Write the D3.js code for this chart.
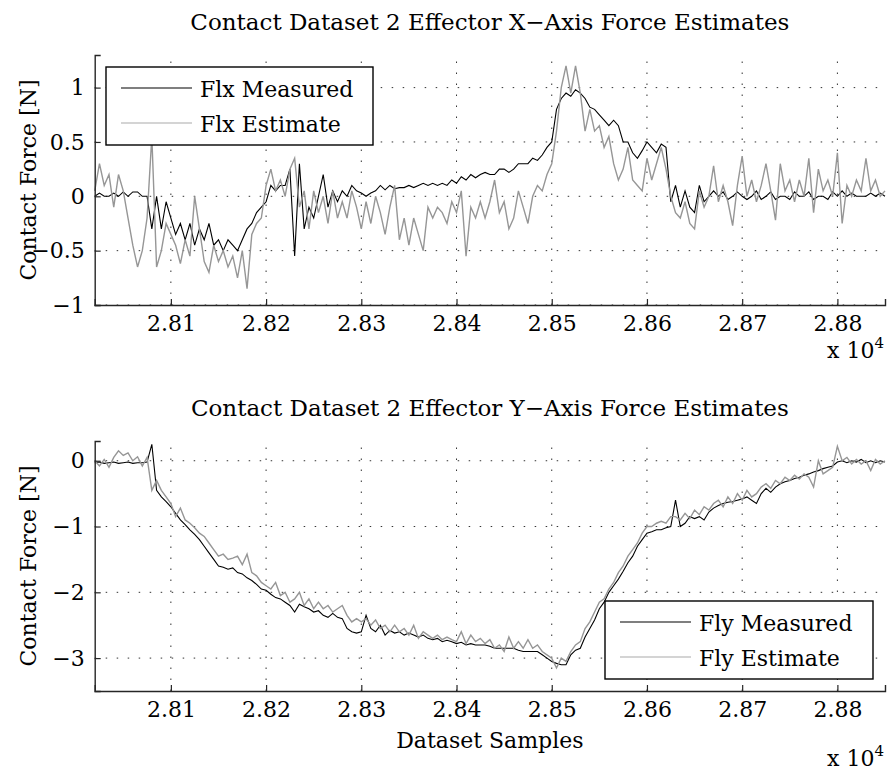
<!DOCTYPE html>
<html>
<head>
<meta charset="utf-8">
<script src="https://cdn.jsdelivr.net/npm/d3@7"></script>
<style>
  body { margin: 0; background: #fff; }
  svg { display: block; }
</style>
</head>
<body>
<svg id="chart"></svg>
<script>
// one value every 5 samples, starting at sample 28020
const sampleStart = 28020;
const sampleStep = 5;

// Flx measured (rows of 10 values = 50 samples)
const fxMeasured = [
  0, 0.03, 0, 0, 0.03, 0, 0.04, 0, 0.04, 0.04,              // 28020
  0, 0, -0.3, 0, -0.3, -0.05, -0.2, -0.35, -0.25, -0.4,     // 28070
  -0.25, -0.45, -0.3, -0.4, -0.25, -0.45, -0.4, -0.5, -0.4, -0.45, // 28120
  -0.5, -0.4, -0.3, -0.25, -0.15, -0.1, -0.05, 0.1, 0.05, 0.1,     // 28170
  0.1, 0.25, -0.55, 0.3, -0.3, -0.1, -0.2, 0, 0.2, -0.1,    // 28220
  0.05, -0.05, 0.05, 0, 0.1, 0.05, 0.03, 0, 0.03, 0.05,     // 28270
  0.1, 0.06, 0.1, 0.07, 0.08, 0.08, 0.1, 0.08, 0.1, 0.12,   // 28320
  0.1, 0.12, 0.1, 0.12, 0.1, 0.15, 0.12, 0.18, 0.15, 0.2,   // 28370
  0.17, 0.2, 0.22, 0.2, 0.2, 0.25, 0.25, 0.22, 0.25, 0.3,   // 28420
  0.3, 0.3, 0.35, 0.33, 0.38, 0.45, 0.5, 0.8, 0.9, 0.95,    // 28470
  0.92, 0.98, 0.95, 0.9, 0.82, 0.8, 0.75, 0.7, 0.65, 0.7,   // 28520
  0.65, 0.5, 0.5, 0.4, 0.35, 0.42, 0.5, 0.45, 0.4, 0.48,    // 28570
  0.45, -0.05, 0.1, -0.1, 0.05, -0.1, -0.15, 0.1, -0.05, 0, // 28620
  0.05, 0, 0.04, -0.03, 0, 0.04, 0, -0.03, 0, 0.05,         // 28670
  -0.03, 0, 0.04, -0.03, 0, 0, -0.03, 0.04, 0, 0,           // 28720
  0.04, -0.03, 0, 0, -0.03, 0.04, 0, 0.05, 0, 0.03,         // 28770
  0, 0, 0, 0.03, 0, 0.03, 0                                 // 28820
];

// Flx estimate
const fxEstimate = [
  0.05, 0.3, 0.1, 0.2, -0.1, 0.2, 0.05, -0.2, -0.45, -0.65,      // 28020
  -0.5, -0.2, 0.55, -0.65, -0.5, -0.25, -0.35, -0.45, -0.62, -0.4, // 28070
  -0.55, 0, -0.3, -0.6, -0.7, -0.45, -0.6, -0.5, -0.65, -0.55,   // 28120
  -0.75, -0.5, -0.85, -0.35, -0.25, -0.2, 0.1, 0.25, 0.05, 0.15,  // 28170
  0, 0.25, 0.35, -0.1, 0.05, -0.3, 0.05, -0.15, 0, -0.25,        // 28220
  0.05, -0.2, -0.05, -0.2, 0.05, -0.1, -0.3, -0.05, -0.25, 0,    // 28270
  -0.15, -0.35, -0.1, 0.1, -0.4, -0.2, -0.45, -0.2, -0.35, -0.5, // 28320
  -0.1, -0.2, -0.1, -0.15, -0.25, -0.05, -0.15, 0.05, -0.55, -0.1, // 28370
  -0.2, -0.05, -0.2, -0.05, 0.15, -0.15, -0.05, -0.3, -0.2, 0.05, // 28420
  -0.1, -0.25, 0, 0.1, 0.05, 0.2, 0.3, 0.6, 1.0, 1.2,            // 28470
  0.95, 1.2, 0.95, 0.6, 0.8, 0.6, 0.65, 0.45, 0.55, 0.3,         // 28520
  0.15, 0.25, 0.45, 0.15, 0.1, 0.05, 0.35, 0.15, 0.3, 0.45,      // 28570
  0.25, 0, -0.15, -0.2, -0.05, -0.25, -0.3, 0.05, -0.1, 0,       // 28620
  0.28, -0.05, 0.1, -0.05, -0.27, 0.1, 0.37, 0, 0.15, -0.05,     // 28670
  0.1, 0.3, 0.05, -0.22, 0.3, 0.05, 0.15, -0.05, 0.15, 0,        // 28720
  0.35, -0.15, 0.25, 0.05, 0.15, 0, 0.4, -0.25, 0.1, 0,          // 28770
  0.15, 0.05, 0.35, 0.05, 0.15, 0, 0.05                          // 28820
];

// Fly measured
const fyMeasured = [
  -0.03, -0.02, -0.04, -0.03, -0.02, -0.04, -0.03, -0.02, -0.04, -0.03, // 28020
  -0.03, -0.02, 0.25, -0.45, -0.55, -0.62, -0.7, -0.8, -0.9, -0.97,     // 28070
  -1.05, -1.12, -1.2, -1.3, -1.4, -1.5, -1.6, -1.62, -1.65, -1.63,      // 28120
  -1.7, -1.72, -1.78, -1.82, -1.88, -1.95, -1.97, -2.03, -2.08, -2.1,   // 28170
  -2.15, -2.2, -2.3, -2.18, -2.22, -2.25, -2.3, -2.28, -2.35, -2.38,    // 28220
  -2.32, -2.38, -2.4, -2.55, -2.6, -2.62, -2.6, -2.35, -2.55, -2.6,     // 28270
  -2.5, -2.65, -2.58, -2.62, -2.6, -2.65, -2.62, -2.65, -2.68, -2.65,   // 28320
  -2.7, -2.72, -2.7, -2.75, -2.73, -2.75, -2.78, -2.76, -2.8, -2.78,    // 28370
  -2.8, -2.8, -2.8, -2.82, -2.85, -2.85, -2.85, -2.85, -2.85, -2.88,    // 28420
  -2.9, -2.9, -2.9, -2.9, -2.95, -3.0, -3.05, -3.08, -3.1, -3.1,        // 28470
  -2.95, -2.88, -2.85, -2.68, -2.55, -2.42, -2.25, -2.15, -2.0, -1.9,   // 28520
  -1.8, -1.68, -1.55, -1.45, -1.3, -1.2, -1.1, -1.08, -1.05, -1.05,     // 28570
  -1.02, -1.0, -0.6, -1.0, -0.95, -0.85, -0.88, -0.85, -0.9, -0.78,     // 28620
  -0.72, -0.68, -0.65, -0.63, -0.62, -0.6, -0.58, -0.55, -0.6, -0.65,   // 28670
  -0.5, -0.42, -0.48, -0.4, -0.35, -0.32, -0.3, -0.27, -0.25, -0.22,    // 28720
  -0.2, -0.17, -0.15, -0.12, -0.1, -0.08, -0.02, 0, -0.03, 0,           // 28770
  -0.02, 0.02, -0.03, 0, -0.03, 0, -0.02                                // 28820
];

// Fly estimate
const fyEstimate = [
  0, -0.08, 0.02, -0.1, 0.05, 0.15, 0.08, 0.12, 0, 0.06,              // 28020
  -0.08, 0.05, -0.45, -0.3, -0.45, -0.55, -0.65, -0.85, -0.72, -0.9,  // 28070
  -0.95, -1.02, -1.1, -1.15, -1.25, -1.35, -1.45, -1.42, -1.5, -1.48, // 28120
  -1.45, -1.58, -1.42, -1.7, -1.75, -1.85, -1.9, -1.95, -1.85, -2.05, // 28170
  -2.0, -2.15, -2.1, -2.0, -2.2, -2.1, -2.25, -2.15, -2.25, -2.2,     // 28220
  -2.3, -2.25, -2.2, -2.35, -2.45, -2.4, -2.45, -2.4, -2.5, -2.42,    // 28270
  -2.55, -2.5, -2.6, -2.5, -2.6, -2.55, -2.65, -2.5, -2.7, -2.6,      // 28320
  -2.65, -2.7, -2.65, -2.72, -2.68, -2.72, -2.75, -2.6, -2.78, -2.65, // 28370
  -2.75, -2.7, -2.78, -2.72, -2.85, -2.8, -2.9, -2.68, -2.85, -2.75,  // 28420
  -2.85, -2.72, -2.85, -2.8, -2.9, -2.95, -3.0, -3.15, -3.0, -3.05,   // 28470
  -2.9, -2.8, -2.75, -2.55, -2.45, -2.3, -2.15, -2.1, -1.95, -1.85,   // 28520
  -1.7, -1.6, -1.45, -1.35, -1.25, -1.1, -1.0, -1.0, -0.95, -0.92,    // 28570
  -0.95, -0.85, -0.85, -0.9, -0.8, -0.88, -0.75, -0.82, -0.7, -0.75,  // 28620
  -0.65, -0.6, -0.7, -0.55, -0.65, -0.5, -0.6, -0.45, -0.55, -0.5,    // 28670
  -0.4, -0.35, -0.42, -0.3, -0.35, -0.25, -0.3, -0.22, -0.28, -0.2,   // 28720
  -0.25, -0.4, 0, -0.2, -0.15, -0.1, 0.22, 0, 0.05, -0.05,            // 28770
  0.02, -0.05, 0, -0.15, 0.02, -0.05, 0                               // 28820
];

const xTicks = [28100, 28200, 28300, 28400, 28500, 28600, 28700, 28800];
const fxTicks = [-1, -0.5, 0, 0.5, 1];
const fyTicks = [-3, -2, -1, 0];

const width = 890, height = 772;
const font = "'DejaVu Serif', 'Liberation Serif', serif";
const fontSize = 22;

const svg = d3.select("#chart")
  .attr("width", width)
  .attr("height", height)
  .attr("viewBox", [0, 0, width, height])
  .style("font-family", font);

svg.append("rect").attr("width", width).attr("height", height).attr("fill", "#fff");

const x = d3.scaleLinear([28020, 28850], [94.7, 885]);

function panel({ top, bottom, yDomain, yTicks, measured, estimate, title, names, legendBox, xlabel }) {
  const y = d3.scaleLinear(yDomain, [bottom, top]);
  const g = svg.append("g");
  const xs = (d, i) => x(sampleStart + i * sampleStep);

  // dotted grid
  g.append("g")
    .selectAll("line")
    .data(xTicks)
    .join("line")
      .attr("x1", d => x(d)).attr("x2", d => x(d))
      .attr("y1", bottom).attr("y2", top)
      .attr("stroke", "#333").attr("stroke-width", 1)
      .attr("stroke-dasharray", "1.5,9.5");
  g.append("g")
    .selectAll("line")
    .data(yTicks)
    .join("line")
      .attr("x1", x.range()[0]).attr("x2", x.range()[1])
      .attr("y1", d => y(d)).attr("y2", d => y(d))
      .attr("stroke", "#333").attr("stroke-width", 1)
      .attr("stroke-dasharray", "1.5,9.5");

  // data lines
  g.append("path")
    .datum(measured)
    .attr("fill", "none")
    .attr("stroke", "#000")
    .attr("stroke-width", 1.1)
    .attr("d", d3.line().x(xs).y(d => y(d)));
  g.append("path")
    .datum(estimate)
    .attr("fill", "none")
    .attr("stroke", "#969696")
    .attr("stroke-width", 1.4)
    .attr("d", d3.line().x(xs).y(d => y(d)));

  // axes
  const xAxis = g.append("g")
    .attr("transform", `translate(0,${bottom})`)
    .call(d3.axisBottom(x).tickValues(xTicks).tickSize(-6).tickPadding(10)
      .tickFormat(d => (d / 1e4).toFixed(2)));
  const yAxis = g.append("g")
    .attr("transform", `translate(${x.range()[0]},0)`)
    .call(d3.axisLeft(y).tickValues(yTicks).tickSize(-6).tickPadding(10)
      .tickFormat(d3.format("")));
  for (const a of [xAxis, yAxis]) {
    a.select(".domain").attr("stroke", "#262626").attr("stroke-width", 1.4);
    a.selectAll(".tick line").attr("stroke", "#262626").attr("stroke-width", 1.2);
    a.selectAll(".tick text").attr("fill", "#000").style("font-size", fontSize + "px").style("font-family", font);
  }

  // exponent label
  const ex = g.append("text")
    .attr("x", 884).attr("y", xlabel ? 766 : 358)
    .attr("text-anchor", "end")
    .style("font-size", fontSize + "px");
  ex.append("tspan").text("x 10");
  ex.append("tspan").attr("dy", -10).style("font-size", "15px").text("4");

  // title
  g.append("text")
    .attr("x", (x.range()[0] + x.range()[1]) / 2)
    .attr("y", top - 25)
    .attr("text-anchor", "middle")
    .style("font-size", "23px")
    .text(title);

  // y label
  g.append("text")
    .attr("transform", `translate(36,${(top + bottom) / 2}) rotate(-90)`)
    .attr("text-anchor", "middle")
    .style("font-size", fontSize + "px")
    .text("Contact Force [N]");

  if (xlabel) {
    g.append("text")
      .attr("x", (x.range()[0] + x.range()[1]) / 2)
      .attr("y", 748)
      .attr("text-anchor", "middle")
      .style("font-size", fontSize + "px")
      .text(xlabel);
  }

  // legend
  const lg = g.append("g");
  lg.append("rect")
    .attr("x", legendBox.x).attr("y", legendBox.y)
    .attr("width", legendBox.w).attr("height", legendBox.h)
    .attr("fill", "#fff").attr("stroke", "#000").attr("stroke-width", 1.4);
  const rows = [
    { name: names[0], color: "#000", dy: 21 },
    { name: names[1], color: "#aaa", dy: 56 }
  ];
  for (const r of rows) {
    lg.append("line")
      .attr("x1", legendBox.x + 15).attr("x2", legendBox.x + 86)
      .attr("y1", legendBox.y + r.dy).attr("y2", legendBox.y + r.dy)
      .attr("stroke", r.color).attr("stroke-width", 1.2);
    lg.append("text")
      .attr("x", legendBox.x + 94)
      .attr("y", legendBox.y + r.dy + 9)
      .style("font-size", fontSize + "px")
      .text(r.name);
  }
}

panel({
  top: 55, bottom: 305, yDomain: [-1, 1.3], yTicks: fxTicks,
  measured: fxMeasured, estimate: fxEstimate,
  title: "Contact Dataset 2 Effector X\u2212Axis Force Estimates",
  names: ["Flx Measured", "Flx Estimate"],
  legendBox: { x: 106, y: 67, w: 267, h: 78 }
});

panel({
  top: 441, bottom: 691, yDomain: [-3.5, 0.3], yTicks: fyTicks,
  measured: fyMeasured, estimate: fyEstimate,
  title: "Contact Dataset 2 Effector Y\u2212Axis Force Estimates",
  names: ["Fly Measured", "Fly Estimate"],
  legendBox: { x: 605, y: 601, w: 268, h: 78 },
  xlabel: "Dataset Samples"
});
</script>
</body>
</html>
